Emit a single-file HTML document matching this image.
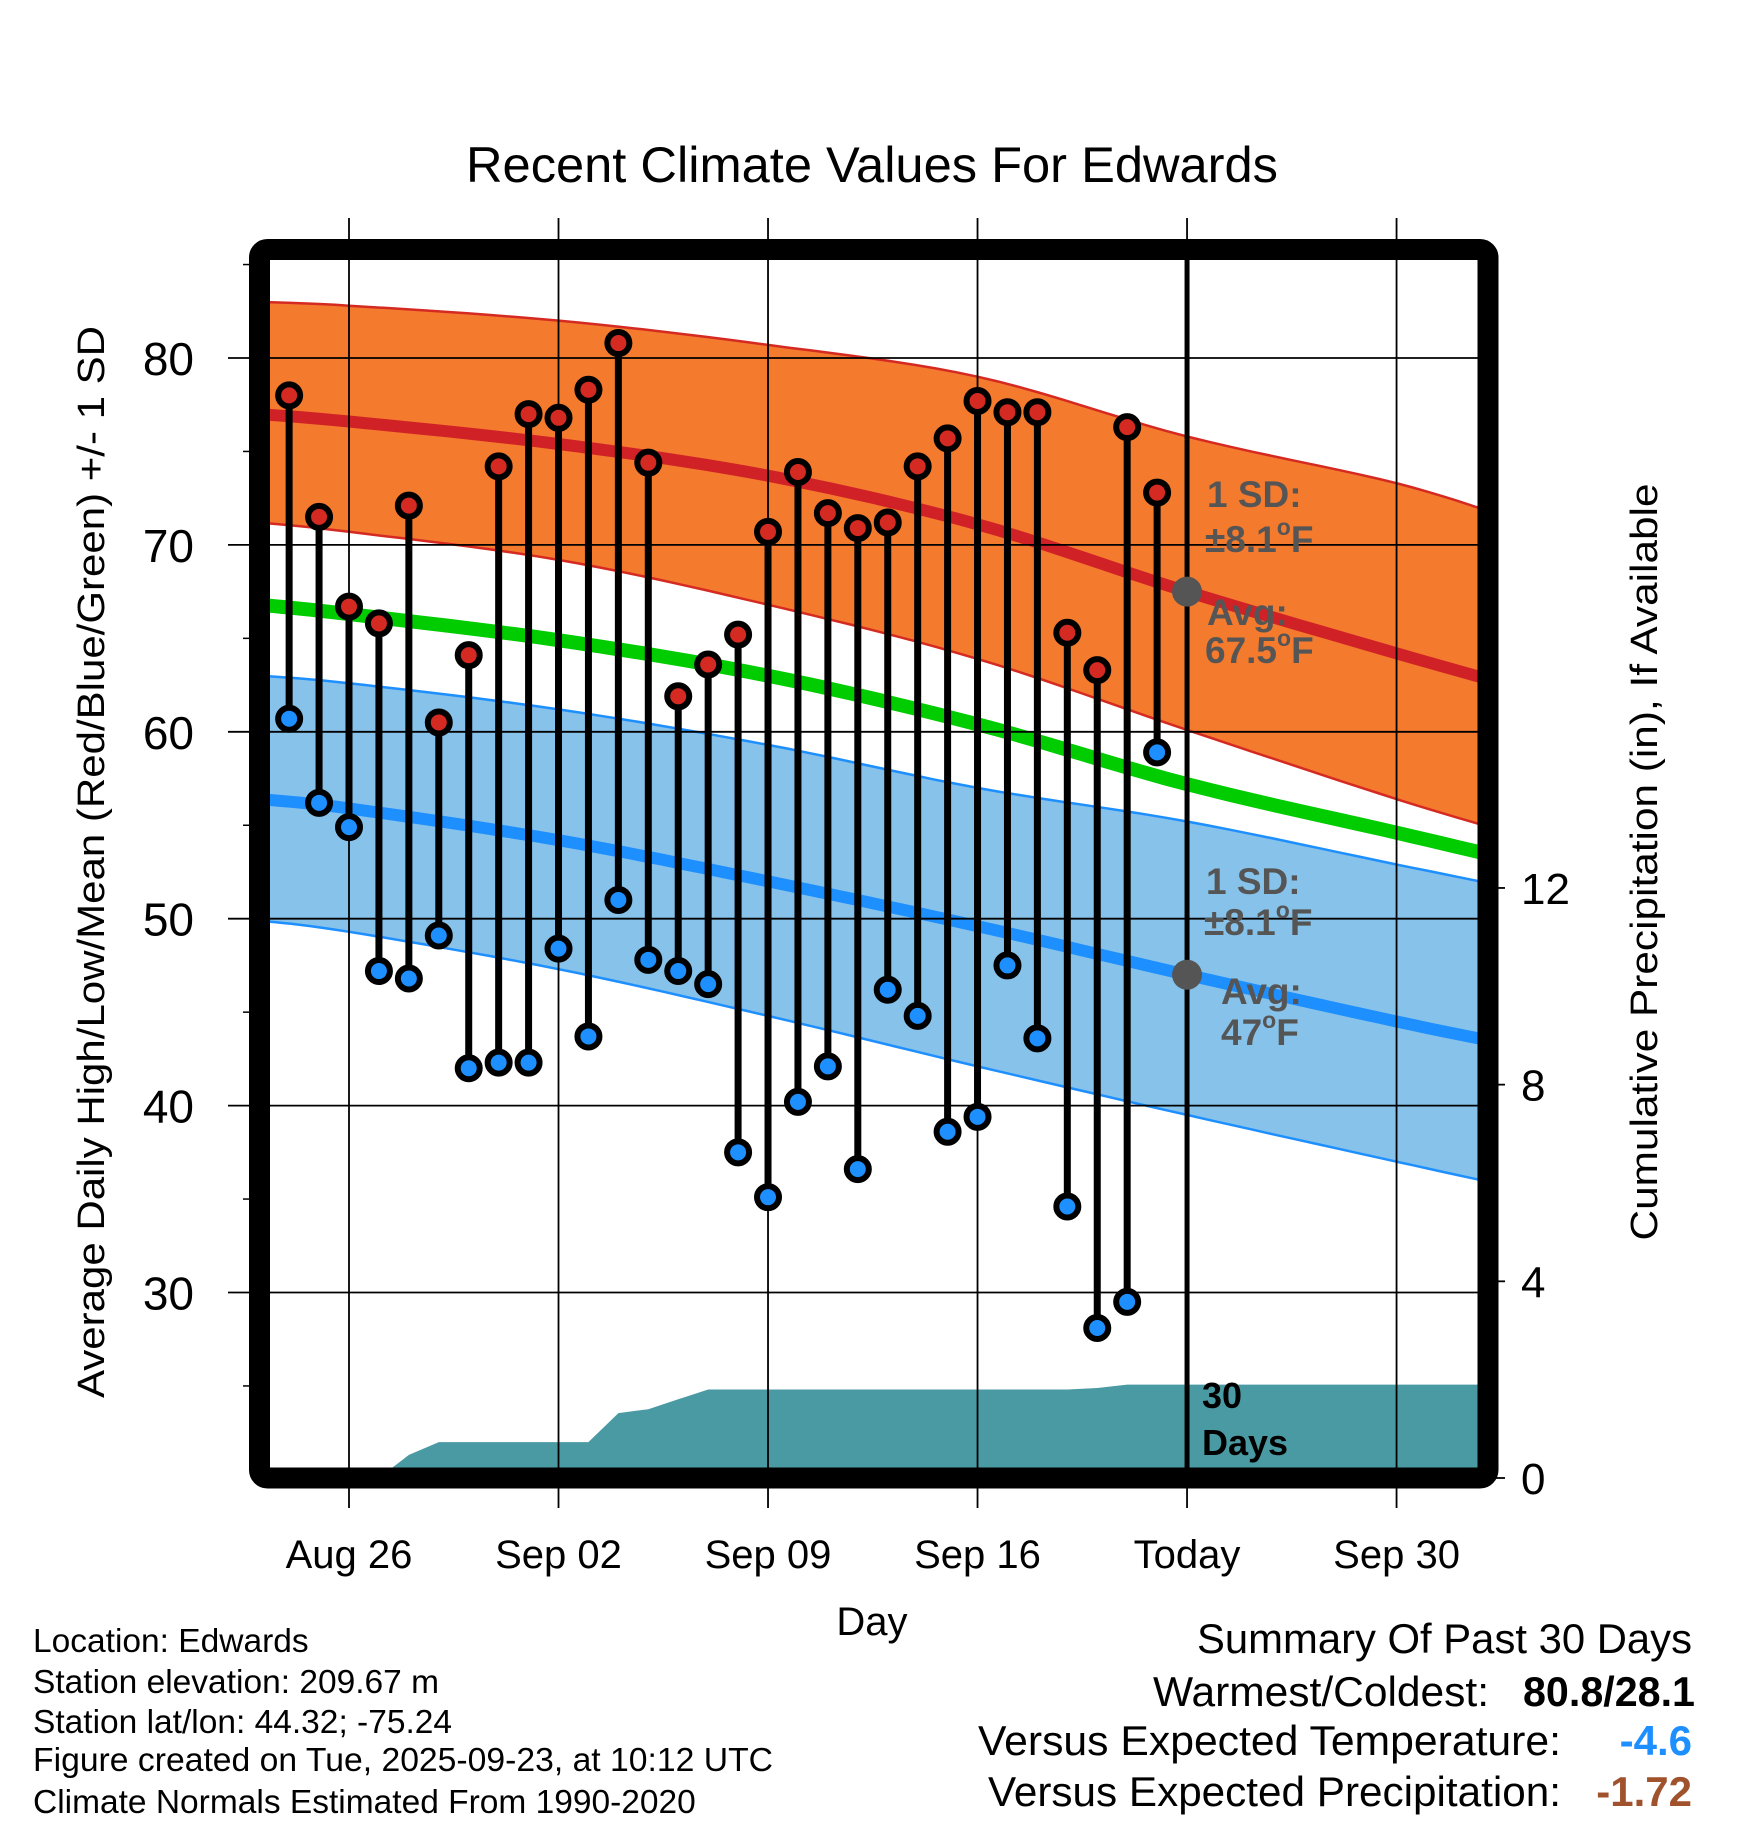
<!DOCTYPE html>
<html><head><meta charset="utf-8"><title>Recent Climate Values For Edwards</title>
<style>
html,body{margin:0;padding:0;background:#fff;}
svg{display:block;font-family:"Liberation Sans",Arial,sans-serif;}
</style></head>
<body>
<svg id="chart" width="1748" height="1828" viewBox="0 0 1748 1828" xmlns="http://www.w3.org/2000/svg">
<defs><clipPath id="plotclip"><rect x="270" y="260" width="1208" height="1208"/></clipPath></defs>
<g id="bands" clip-path="url(#plotclip)"></g>
<g id="grid"></g>
<g id="marks"></g>
<g id="annot"></g>
<g id="axes"></g>
</svg>
<script>
// ---- data ----
const startDate = '2025-08-24';
const highs = [78.0,71.5,66.7,65.8,72.1,60.5,64.1,74.2,77.0,76.8,78.3,80.8,74.4,61.9,63.6,65.2,70.7,73.9,71.7,70.9,71.2,74.2,75.7,77.7,77.1,77.1,65.3,63.3,76.3,72.8];
const lows  = [60.7,56.2,54.9,47.2,46.8,49.1,42.0,42.3,42.3,48.4,43.7,51.0,47.8,47.2,46.5,37.5,35.1,40.2,42.1,36.6,46.2,44.8,38.6,39.4,47.5,43.6,34.6,28.1,29.5,58.9];
const precipCum = [0,0,0,0,0.47,0.73,0.73,0.73,0.73,0.73,0.73,1.32,1.40,1.60,1.80,1.80,1.80,1.80,1.80,1.80,1.80,1.80,1.80,1.80,1.80,1.80,1.80,1.83,1.90,1.90];
const normDates = ['2025-08-23','2025-08-26','2025-09-02','2025-09-09','2025-09-16','2025-09-23','2025-09-30','2025-10-04'];
const highUpper = [83.0,82.8,82.0,80.7,79.0,75.8,73.3,71.3];
const highAvg   = [77.0,76.6,75.4,73.7,71.1,67.5,64.2,62.4];
const highLower = [71.2,70.7,69.2,66.8,63.9,60.1,56.4,54.5];
const meanAvg   = [66.8,66.3,64.9,63.0,60.4,57.2,54.6,53.1];
const lowUpper  = [63.0,62.6,61.2,59.3,57.0,55.2,52.9,51.6];
const lowAvg    = [56.4,55.9,54.2,52.0,49.6,47.0,44.5,43.2];
const lowLower  = [49.9,49.3,47.3,44.8,42.1,39.5,37.0,35.6];
const xTickDates = ['2025-08-26','2025-09-02','2025-09-09','2025-09-16','2025-09-23','2025-09-30'];
const xTickLabels = ['Aug 26','Sep 02','Sep 09','Sep 16','Today','Sep 30'];
const yTicks = [30,40,50,60,70,80];
const yMinor = [25,35,45,55,65,75,85];
const pTicks = [0,4,8,12];

// ---- scales ----
const NS='http://www.w3.org/2000/svg';
const DAY=86400000, ref=Date.parse('2025-08-26T00:00:00Z');
function dayOf(s){return (Date.parse(s+'T00:00:00Z')-ref)/DAY;}
function xS(d){return 349+d*29.93;}
function yS(v){return 358+(80-v)*18.69;}
function pS(p){return 1478-p*49.17;}
const X0=270,X1=1478,Y0=260,Y1=1468;
function mk(tag,attrs,parent){const e=document.createElementNS(NS,tag);for(const k in attrs)e.setAttribute(k,attrs[k]);parent.appendChild(e);return e;}
const bands=document.getElementById('bands'),grid=document.getElementById('grid'),marks=document.getElementById('marks'),annot=document.getElementById('annot'),axes=document.getElementById('axes');
const nd=normDates.map(dayOf);
// smooth path via Catmull-Rom through normal points
function smoothPts(arr){
  const P=nd.map((d,i)=>[xS(d),yS(arr[i])]);const out=[];
  for(let i=0;i<P.length-1;i++){
    const p0=P[Math.max(0,i-1)],p1=P[i],p2=P[i+1],p3=P[Math.min(P.length-1,i+2)];
    for(let k=0;k<10;k++){const t=k/10,t2=t*t,t3=t2*t;
      const f=(a,b,c,d)=>0.5*((2*b)+(-a+c)*t+(2*a-5*b+4*c-d)*t2+(-a+3*b-3*c+d)*t3);
      out.push(f(p0[0],p1[0],p2[0],p3[0]).toFixed(1)+','+f(p0[1],p1[1],p2[1],p3[1]).toFixed(1));}
  }
  const L=P[P.length-1];out.push(L[0].toFixed(1)+','+L[1].toFixed(1));return out;
}
function band(up,lo,fill,stroke,name){
  const p=mk('polygon',{points:smoothPts(up).concat(smoothPts(lo).reverse()).join(' '),fill:fill},bands);
  
  
  [up,lo].forEach(a=>{const l=mk('polyline',{points:smoothPts(a).join(' '),fill:'none',stroke:stroke,'stroke-width':2.5},bands);
    
    });
}
band(highUpper,highLower,'#f47a2e','#d42a22','high-sd-band');
band(lowUpper,lowLower,'#86c2e9','#1e8fff','low-sd-band');
function line(a,c,w,name){const l=mk('polyline',{points:smoothPts(a).join(' '),fill:'none',stroke:c,'stroke-width':w},bands);
  
  }
line(highAvg,'#d02226',12,'high-average-line');
line(meanAvg,'#00cc00',14,'mean-average-line');
line(lowAvg,'#1e8fff',12,'low-average-line');
// precip area
const startD=dayOf(startDate);
let pp=[xS(startD)+','+pS(0)];
precipCum.forEach((p,i)=>pp.push(xS(startD+i).toFixed(1)+','+pS(p).toFixed(1)));
pp.push(X1+','+pS(precipCum[precipCum.length-1]).toFixed(1));
pp.push(X1+','+pS(0));pp.unshift(X0+','+pS(0));
const pa=mk('polygon',{points:pp.join(' '),fill:'#4a9aa4'},bands);



// grid
yTicks.forEach(v=>{const l=mk('line',{x1:228,x2:X1,y1:yS(v),y2:yS(v),stroke:'#000','stroke-width':1.8},grid);
  
  
  const t=mk('text',{x:194,y:yS(v)+17,'text-anchor':'end','font-size':46},axes);t.textContent=v;
  
  });
yMinor.forEach(v=>{const l=mk('line',{x1:243,x2:252,y1:yS(v),y2:yS(v),stroke:'#000','stroke-width':1.5},grid);
  
  });
xTickDates.forEach((s,i)=>{const x=xS(dayOf(s));
  const l=mk('line',{x1:x,x2:x,y1:218,y2:1508,stroke:'#000','stroke-width':1.8},grid);
  
  
  const t=mk('text',{x:x,y:1568,'text-anchor':'middle','font-size':40},axes);t.textContent=xTickLabels[i];
  
  });
pTicks.forEach(p=>{const l=mk('line',{x1:1490,x2:1505,y1:pS(p),y2:pS(p),stroke:'#000','stroke-width':1.8},axes);
  
  
  const t=mk('text',{x:1521,y:pS(p)+16,'font-size':44},axes);t.textContent=p;
  
  });

// stems and markers
highs.forEach((h,i)=>{const x=xS(startD+i);
  const s=mk('line',{x1:x,x2:x,y1:yS(h),y2:yS(lows[i]),stroke:'#000','stroke-width':7},marks);
  
  });
highs.forEach((h,i)=>{const x=xS(startD+i);
  const a=mk('circle',{cx:x,cy:yS(h),r:11,fill:'#d42a22',stroke:'#000','stroke-width':6},marks);
  
  
  const b=mk('circle',{cx:x,cy:yS(lows[i]),r:11,fill:'#1e8fff',stroke:'#000','stroke-width':6},marks);
  
  });

// today line
const tx=xS(dayOf('2025-09-23'));
const tl=mk('line',{x1:tx,x2:tx,y1:Y0,y2:Y1,stroke:'#000','stroke-width':5},annot);


const ti=nd.indexOf(dayOf('2025-09-23'));
const d1=mk('circle',{cx:tx,cy:yS(highAvg[ti]),r:15,fill:'#555'},annot);


const d2=mk('circle',{cx:tx,cy:yS(lowAvg[ti]),r:15,fill:'#555'},annot);


</script>
<svg style="position:absolute;left:0;top:0" width="1748" height="1828" viewBox="0 0 1748 1828" xmlns="http://www.w3.org/2000/svg" font-family="Liberation Sans, Arial, sans-serif">
<g font-weight="bold" fill="#555" font-size="37">
<text x="1207" y="507">1 SD:</text>
<text x="1205" y="552">±8.1<tspan font-size="23" dy="-17">o</tspan><tspan dy="17">F</tspan></text>
<text x="1207" y="625">Avg:</text>
<text x="1205" y="663">67.5<tspan font-size="23" dy="-17">o</tspan><tspan dy="17">F</tspan></text>
</g>
<g font-weight="bold" fill="#555" font-size="37">
<text x="1206" y="894">1 SD:</text>
<text x="1204" y="935">±8.1<tspan font-size="23" dy="-17">o</tspan><tspan dy="17">F</tspan></text>
<text x="1221" y="1004">Avg:</text>
<text x="1221" y="1045">47<tspan font-size="23" dy="-17">o</tspan><tspan dy="17">F</tspan></text>
</g>
<g font-weight="bold" fill="#000" font-size="36">
<text x="1202" y="1408">30</text>
<text x="1202" y="1455">Days</text>
</g>
<rect x="259.5" y="249.5" width="1228.5" height="1228.5" rx="8" fill="none" stroke="#000" stroke-width="21"/>
<text x="872" y="182" text-anchor="middle" font-size="50" textLength="812" lengthAdjust="spacingAndGlyphs">Recent Climate Values For Edwards</text>
<text transform="translate(104,862) rotate(-90)" text-anchor="middle" font-size="38" textLength="1072" lengthAdjust="spacingAndGlyphs">Average Daily High/Low/Mean (Red/Blue/Green) +/- 1 SD</text>
<text transform="translate(1657,862) rotate(-90)" text-anchor="middle" font-size="38" textLength="757" lengthAdjust="spacingAndGlyphs">Cumulative Precipitation (in), If Available</text>
<text x="872" y="1635" text-anchor="middle" font-size="40">Day</text>
<g font-size="33.5">
<text x="33" y="1652">Location: Edwards</text>
<text x="33" y="1693">Station elevation: 209.67 m</text>
<text x="33" y="1733">Station lat/lon: 44.32; -75.24</text>
<text x="33" y="1771" textLength="740" lengthAdjust="spacingAndGlyphs">Figure created on Tue, 2025-09-23, at 10:12 UTC</text>
<text x="33" y="1813">Climate Normals Estimated From 1990-2020</text>
</g>
<g font-size="42">
<text x="1692" y="1653" text-anchor="end" textLength="495" lengthAdjust="spacingAndGlyphs">Summary Of Past 30 Days</text>
<text x="1489" y="1706" text-anchor="end" textLength="336" lengthAdjust="spacingAndGlyphs">Warmest/Coldest:</text>
<text x="1695" y="1706" text-anchor="end" font-weight="bold" textLength="172" lengthAdjust="spacingAndGlyphs">80.8/28.1</text>
<text x="1561" y="1755" text-anchor="end" textLength="583" lengthAdjust="spacingAndGlyphs">Versus Expected Temperature:</text>
<text x="1692" y="1755" text-anchor="end" font-weight="bold" fill="#1e8fff">-4.6</text>
<text x="1561" y="1806" text-anchor="end" textLength="573" lengthAdjust="spacingAndGlyphs">Versus Expected Precipitation:</text>
<text x="1692" y="1806" text-anchor="end" font-weight="bold" fill="#a0522d">-1.72</text>
</g>
</svg>
</body></html>
